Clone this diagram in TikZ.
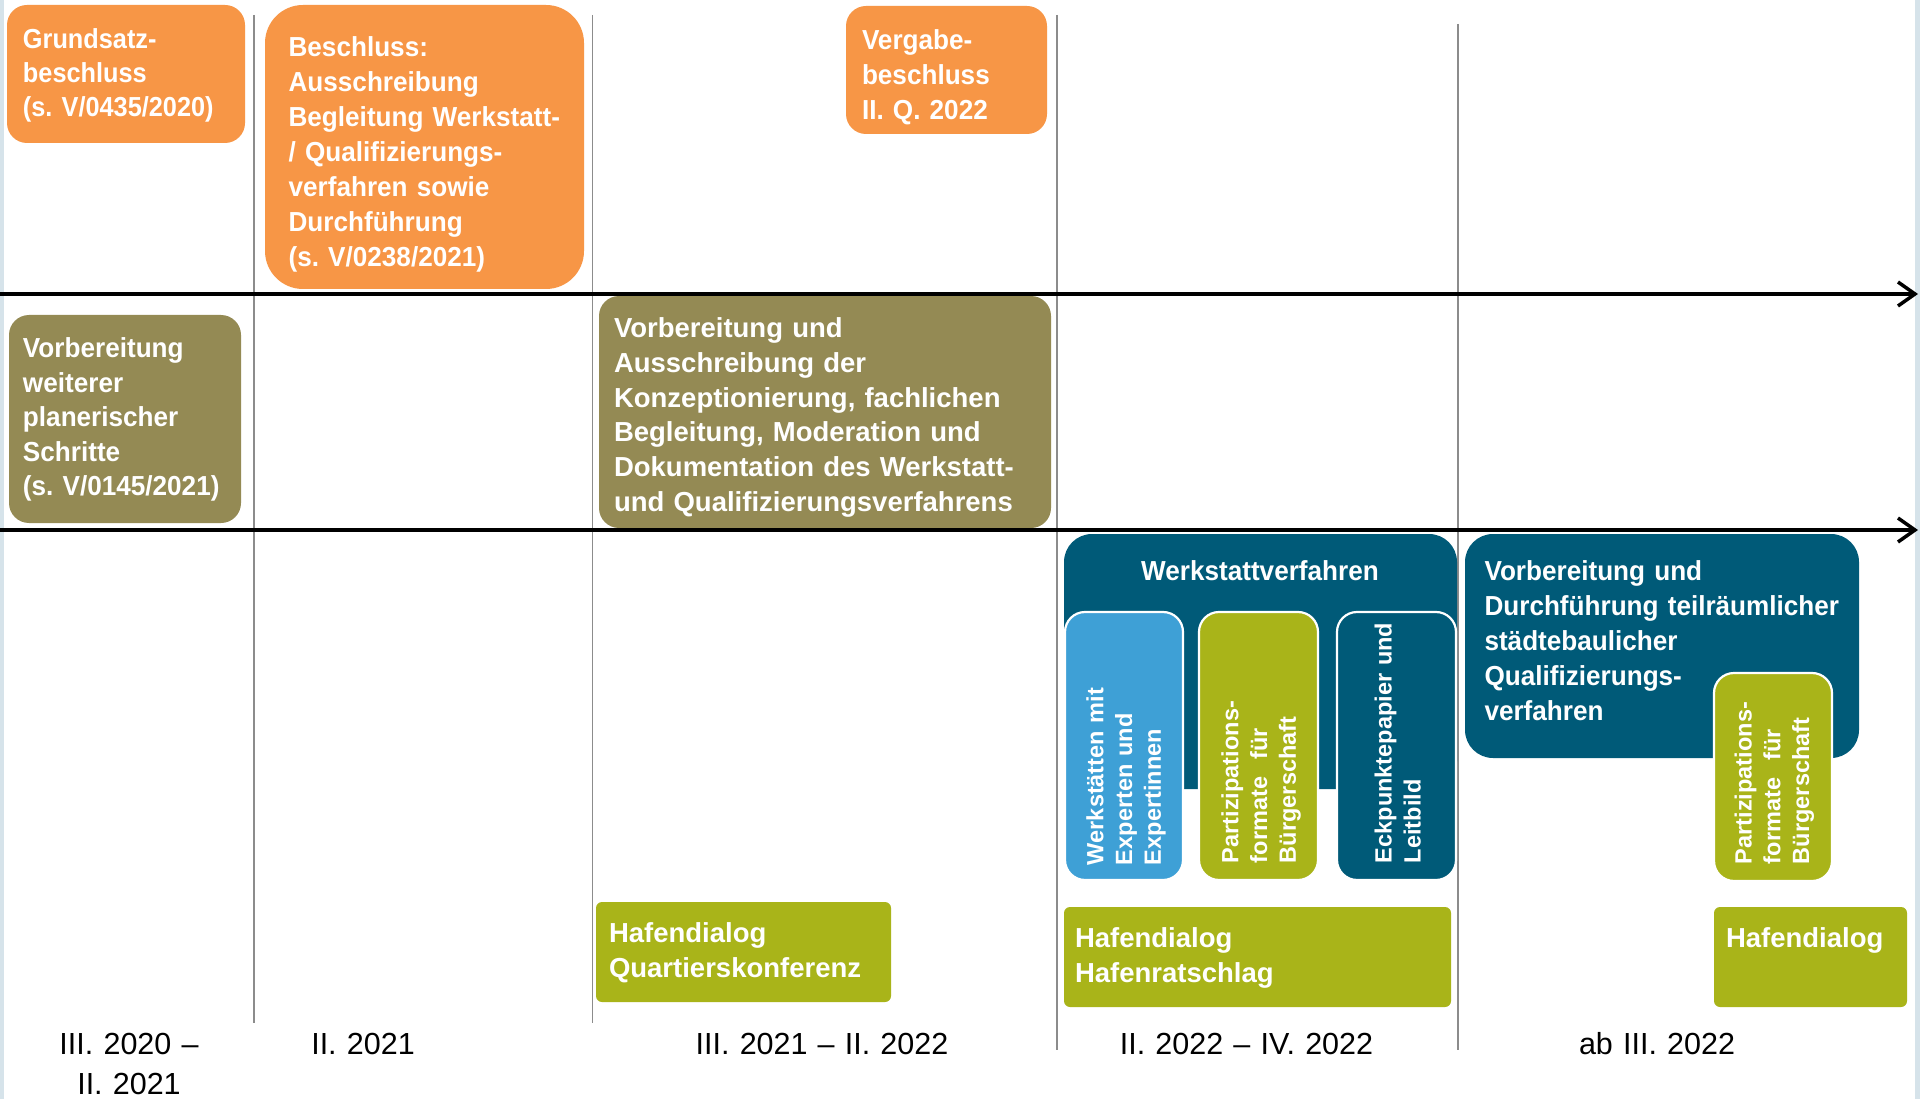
\documentclass[tikz,border=0pt]{standalone}
\usepackage{fontspec}
\setmainfont{Liberation Sans}
\newfontfamily\condA[FakeStretch=0.95]{Liberation Sans}
\newfontfamily\condB[FakeStretch=0.92]{Liberation Sans}
\usetikzlibrary{arrows.meta}
\definecolor{cOrange}{HTML}{F79646}
\definecolor{cOlive}{HTML}{948A54}
\definecolor{cTeal}{HTML}{005A78}
\definecolor{cLight}{HTML}{3EA0D6}
\definecolor{cLime}{HTML}{A9B419}
\definecolor{cStrip}{HTML}{D6E3EA}
\definecolor{cGrid}{HTML}{8C8C8C}
\frenchspacing
\tikzset{
  boxtext/.style={anchor=base west, inner sep=0pt, outer sep=0pt, text=white, align=left, text width=460pt,
    font=\frenchspacing\fontsize{27.5}{35}\selectfont\bfseries},
  boxtextA/.style={boxtext, font=\frenchspacing\condA\fontsize{27.5}{35}\selectfont\bfseries},
  boxtextB/.style={boxtext, font=\frenchspacing\condB\fontsize{27.5}{34}\selectfont\bfseries},
  titletext/.style={anchor=base, inner sep=0pt, outer sep=0pt, text=white, align=center, text width=400pt,
    font=\condA\fontsize{27.5}{35}\selectfont\bfseries},
  vtext/.style={anchor=base west, inner sep=0pt, outer sep=0pt, rotate=90, text=white, align=left, text width=260pt,
    font=\fontsize{23.5}{28.8}\selectfont\bfseries},
  period/.style={anchor=base, inner sep=0pt, align=center, text width=320pt,
    font=\frenchspacing\fontsize{30.5}{40}\selectfont},
  gridline/.style={draw=cGrid, line width=1.7pt},
  timeline/.style={draw=black, line width=3.5pt, -{Straight Barb[length=17pt, width=24pt, line width=3.5pt]}},
  subbox/.style={draw=white, line width=2.2pt, rounded corners=20pt},
}
\begin{document}
\begin{tikzpicture}[x=1pt,y=-1pt]
\useasboundingbox (0,0) rectangle (1920,1099);
\fill[white] (0,0) rectangle (1920,1099);
\fill[cStrip] (0,0) rectangle (4,1099);
\fill[cStrip] (1915,0) rectangle (1920,1099);

% vertical period separators
\coordinate (g1t) at (254,15);    \coordinate (g1b) at (254,1023);
\coordinate (g2t) at (592.5,15);  \coordinate (g2b) at (592.5,1023);
\coordinate (g3t) at (1056.7,15); \coordinate (g3b) at (1056.7,1050);
\coordinate (g4t) at (1458,24);   \coordinate (g4b) at (1458,1050);
\draw[gridline] (g1t) -- (g1b);
\draw[gridline] (g2t) -- (g2b);
\draw[gridline] (g3t) -- (g3b);
\draw[gridline] (g4t) -- (g4b);

% row 1: decisions (orange)
\fill[cOrange, rounded corners=20pt] (7,5) rectangle (245,143);
\node[boxtextB] (grund) at (23,49) {Grundsatz-\\beschluss\\(s. V/0435/2020)};

\fill[cOrange, rounded corners=38pt] (265,5) rectangle (584,289);
\node[boxtextA] (beschl) at (288.6,57) {Beschluss:\\Ausschreibung\\Begleitung Werkstatt-\\/ Qualifizierungs-\\verfahren sowie\\Durchführung\\(s. V/0238/2021)};

\fill[cOrange, rounded corners=20pt] (846,6) rectangle (1047,134);
\node[boxtextA] (vergabe) at (862,50) {Vergabe-\\beschluss\\II. Q. 2022};

% row 2: preparation (olive)
\fill[cOlive, rounded corners=20pt] (9,315) rectangle (241,523);
\node[boxtext, font=\frenchspacing\condA\fontsize{27.5}{34.5}\selectfont\bfseries] (vorb1) at (23,358) {Vorbereitung\\weiterer\\planerischer\\Schritte\\(s. V/0145/2021)};

\fill[cOlive, rounded corners=20pt] (599,296) rectangle (1051,528);
\node[boxtext, font=\fontsize{27.5}{34.8}\selectfont\bfseries] (vorb2) at (614,337.5) {Vorbereitung und\\Ausschreibung der\\Konzeptionierung, fachlichen\\Begleitung, Moderation und\\Dokumentation des Werkstatt-\\und Qualifizierungsverfahrens};

% timelines
\coordinate (a1s) at (0,294);  \coordinate (a1e) at (1918,294);
\coordinate (a2s) at (0,530);  \coordinate (a2e) at (1918,530);
\draw[timeline] (a1s) -- (a1e);
\draw[timeline] (a2s) -- (a2e);

% row 3: Werkstattverfahren
\fill[cTeal, rounded corners=28pt] (1064,534) rectangle (1457,789);
\node[titletext] (werk) at (1260,580) {Werkstattverfahren};

\filldraw[subbox, fill=cLight] (1065,612) rectangle (1183,880);
\filldraw[subbox, fill=cLime]  (1199,612) rectangle (1318,880);
\filldraw[subbox, fill=cTeal]  (1337,612) rectangle (1456,880);
\node[vtext] (wexp) at (1103.3,865) {Werkstätten mit\\Experten und\\Expertinnen};
\node[vtext] (part1) at (1238.3,863) {Partizipations-\\formate\hspace{0.4em} für\\Bürgerschaft};
\node[vtext] (eck) at (1391.7,863) {Eckpunktepapier und\\Leitbild};

% row 3: teilräumliche Verfahren
\fill[cTeal, rounded corners=28pt] (1465,534) rectangle (1859,758);
\node[boxtext, font=\condA\fontsize{27.5}{35}\selectfont\bfseries] (teil) at (1484.5,580) {Vorbereitung und\\Durchführung teilräumlicher\\städtebaulicher\\Qualifizierungs-\\verfahren};
\filldraw[subbox, fill=cLime] (1714,673) rectangle (1832,881);
\node[vtext] (part2) at (1751.6,864) {Partizipations-\\formate\hspace{0.4em} für\\Bürgerschaft};

% Hafendialog boxes
\fill[cLime, rounded corners=6pt] (596,902) rectangle (891,1002);
\node[boxtext] (hd1) at (609,942) {Hafendialog\\Quartierskonferenz};
\fill[cLime, rounded corners=6pt] (1064,907) rectangle (1451,1007);
\node[boxtext] (hd2) at (1075,947) {Hafendialog\\Hafenratschlag};
\fill[cLime, rounded corners=6pt] (1714,907) rectangle (1907,1007);
\node[boxtext] (hd3) at (1726,947) {Hafendialog};

% period labels
\node[period] (p1) at (129,1054) {III. 2020 –\\II. 2021};
\node[period] (p2) at (363,1054) {II. 2021};
\node[period] (p3) at (822,1054) {III. 2021 – II. 2022};
\node[period] (p4) at (1246.5,1054) {II. 2022 – IV. 2022};
\node[period] (p5) at (1657,1054) {ab III. 2022};
\end{tikzpicture}
\end{document}
